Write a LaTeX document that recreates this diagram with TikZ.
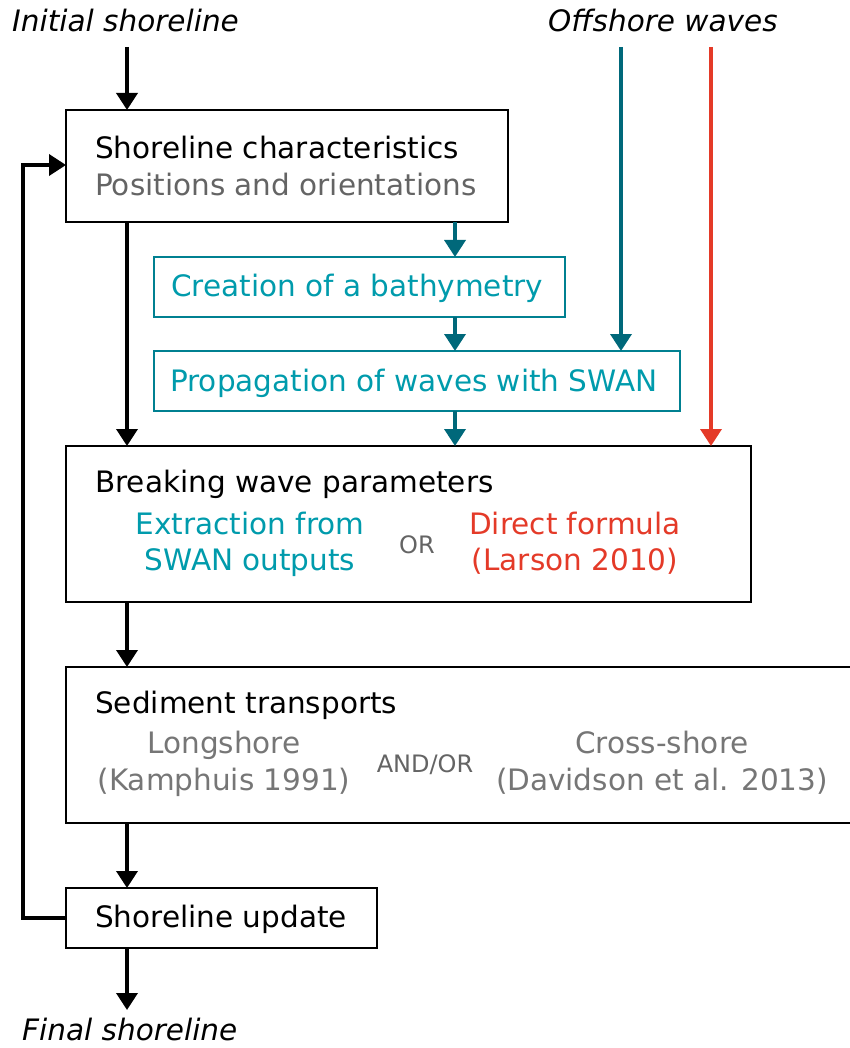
\documentclass[tikz,border=0pt]{standalone}
\usepackage{fontspec}
\setmainfont{DejaVu Sans}
\usetikzlibrary{arrows.meta}
\definecolor{tealarrow}{RGB}{0,104,122}
\definecolor{tealbox}{RGB}{0,128,145}
\definecolor{tealtext}{RGB}{0,155,172}
\definecolor{redc}{RGB}{228,58,40}
\definecolor{grayA}{RGB}{100,100,100}
\definecolor{grayB}{RGB}{118,118,118}
\tikzset{
  blk/.style={draw=black,line width=2.5pt},
  tbox/.style={draw=tealbox,line width=2.5pt},
  arr/.style={line width=3.6pt,-{Triangle[width=21pt,length=17pt]}},
  txt/.style={inner sep=0pt,anchor=base west,font=\fontsize{29.5}{34}\selectfont},
  ctxt/.style={inner sep=0pt,anchor=base,font=\fontsize{29.5}{34}\selectfont},
  small/.style={inner sep=0pt,anchor=base,font=\fontsize{24}{28}\selectfont},
  lab/.style={inner sep=0pt,anchor=base west,font=\fontsize{29.5}{34}\selectfont\itshape},
}
\begin{document}
\begin{tikzpicture}[x=1pt,y=-1pt]
\useasboundingbox (0,0) rectangle (850,1048);
\clip (0,0) rectangle (850,1048);
% labels
\node[lab] (init) at (12,32) {Initial shoreline};
\node[lab] (off) at (548,32) {Offshore waves};
\node[lab] (fin) at (22,1040) {Final shoreline};
% boxes
\draw[blk] (66,110) rectangle (508,222);
\coordinate (b1top) at (127,110);
\coordinate (b1bot) at (127,222);
\coordinate (b1botT) at (455,222);
\coordinate (b1left) at (66,165);
\node[txt] (t1) at (95,159) {Shoreline characteristics};
\node[txt,text=grayA] (t1b) at (95,196) {Positions and orientations};

\draw[tbox] (154,257) rectangle (565,317);
\coordinate (b2top) at (455,257);
\coordinate (b2bot) at (455,317);
\node[txt,text=tealtext] (t2) at (171,297) {Creation of a bathymetry};

\draw[tbox] (154,351) rectangle (680,411);
\coordinate (b3top) at (455,351);
\coordinate (b3topR) at (621,351);
\coordinate (b3bot) at (455,411);
\node[txt,text=tealtext] (t3) at (170,391) {Propagation of waves with SWAN};

\draw[blk] (66,446) rectangle (751,602);
\coordinate (b4topL) at (127,446);
\coordinate (b4topT) at (455,446);
\coordinate (b4topR) at (711,446);
\coordinate (b4bot) at (127,602);
\node[txt] (t4) at (95,492) {Breaking wave parameters};
\node[ctxt,text=tealtext] (t4a) at (250,534) {Extraction from};
\node[ctxt,text=tealtext] (t4b) at (250,570) {SWAN outputs};
\node[small,text=grayA] (or) at (417,553) {OR};
\node[ctxt,text=redc] (t4c) at (575,534) {Direct formula};
\node[ctxt,text=redc] (t4d) at (575,570) {(Larson 2010)};

\draw[blk] (66,667) rectangle (870,823);
\coordinate (b5top) at (127,667);
\coordinate (b5bot) at (127,823);
\node[txt] (t5) at (95,713) {Sediment transports};
\node[ctxt,text=grayB] (t5a) at (224,753) {Longshore};
\node[ctxt,text=grayB] (t5b) at (224,790) {(Kamphuis 1991)};
\node[small,text=grayA] (andor) at (425,772) {AND/OR};
\node[ctxt,text=grayB] (t5c) at (662,753) {Cross-shore};
\node[ctxt,text=grayB] (t5d) at (662,790) {(Davidson et al. 2013)};

\draw[blk] (66,888) rectangle (377,948);
\coordinate (b6top) at (127,888);
\coordinate (b6bot) at (127,948);
\coordinate (b6left) at (66,918);
\node[txt] (t6) at (95,927) {Shoreline update};

\coordinate (initS) at (127,47);
\coordinate (offT) at (621,47);
\coordinate (offR) at (711,47);
\coordinate (finN) at (127,1010);

% arrows
\draw[arr] (initS) -- (b1top);
\draw[arr] (b1bot) -- (b4topL);
\draw[arr,tealarrow] (b1botT) -- (b2top);
\draw[arr,tealarrow] (b2bot) -- (b3top);
\draw[arr,tealarrow] (offT) -- (b3topR);
\draw[arr,tealarrow] (b3bot) -- (b4topT);
\draw[arr,redc] (offR) -- (b4topR);
\draw[arr] (b4bot) -- (b5top);
\draw[arr] (b5bot) -- (b6top);
\draw[arr] (b6bot) -- (finN);
\draw[arr] (b6left) -| (23,165) -- (b1left);
\end{tikzpicture}
\end{document}
